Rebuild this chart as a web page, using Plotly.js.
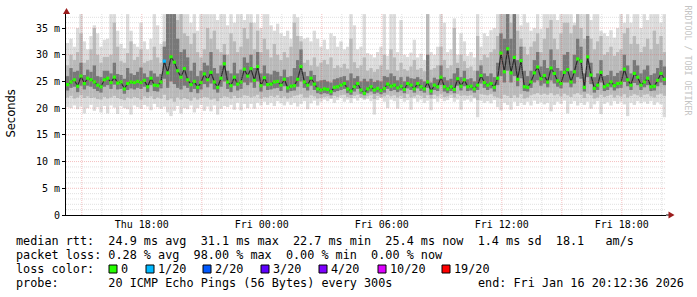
<!DOCTYPE html>
<html><head><meta charset="utf-8">
<script src="https://cdn.plot.ly/plotly-3.0.1.min.js"></script>
<style>html,body{margin:0;padding:0;background:#fff;}#chart{width:697px;height:297px;}</style>
</head><body><div id="chart"></div>
<script>
// ---- DATA (ms, 10-minute steps, 30 hours ending Fri Jan 16 20:12:36 2026) ----
const med = [
24.4,24.9,25.3,24.1,26.0,24.6, 25.6,25.3,24.9,24.3,24.0,25.3, 25.6,24.8,25.8,24.7,24.9,23.6,
24.6,24.9,24.8,25.0,24.8,25.2, 24.0,25.6,24.3,24.2,24.9,28.8, 26.6,29.6,28.6,27.0,25.8,27.4,
25.3,24.4,25.0,23.9,24.8,26.4, 25.3,26.7,24.9,23.9,25.6,28.3, 24.9,24.2,25.8,24.5,24.9,27.3,
26.0,27.4,25.2,27.8,24.2,25.7, 24.4,24.5,24.9,25.0,24.3,25.4, 23.8,24.1,24.2,25.4,27.8,24.9,
24.3,25.6,24.5,23.6,23.4,23.6, 23.5,23.1,23.9,24.0,24.3,24.6, 23.6,23.2,24.0,24.6,23.4,22.8,
23.6,24.0,23.4,23.7,23.3,23.7, 24.5,24.1,24.3,23.8,24.1,23.5, 24.6,24.3,23.6,24.6,24.0,23.6,
24.9,23.2,24.3,24.0,25.8,24.0, 23.6,24.0,23.5,25.5,24.1,25.3, 24.0,24.1,23.6,24.3,26.1,24.8,
24.3,24.6,23.9,25.6,30.3,26.8, 31.1,26.6,29.5,25.4,28.9,24.0, 23.9,24.9,26.6,27.7,25.5,26.1,
24.9,27.5,26.5,25.1,24.6,26.7, 27.2,24.9,26.8,29.2,28.8,23.9, 29.6,26.2,23.7,24.3,26.7,24.0,
24.3,24.9,24.2,24.6,24.7,27.3, 25.3,24.3,26.5,25.8,24.3,24.9, 25.6,24.0,24.1,25.2,26.5,25.4];
// loss per step, in pings lost out of 20
const loss = [
0,0,0,0,0,0, 0,0,0,0,0,0, 0,0,0,0,0,0, 0,0,0,0,0,0, 0,0,0,0,0,1, 0,0,0,0,0,0,
0,0,0,0,0,0, 0,0,0,0,0,0, 0,0,0,0,0,0, 0,0,0,0,0,0, 0,0,0,0,0,0, 0,0,0,0,0,0,
0,0,0,0,0,0, 0,0,0,0,0,0, 0,0,0,0,0,0, 0,0,0,0,0,0, 0,0,0,0,0,0, 0,0,0,0,0,0,
0,0,0,0,0,0, 0,0,0,0,0,0, 0,0,0,0,0,0, 0,0,0,0,0,0, 0,0,0,0,0,0, 0,0,0,0,0,0,
0,0,0,0,0,0, 0,0,0,0,0,0, 0,0,0,0,0,0, 0,0,0,0,0,0, 0,0,0,0,0,0, 0,0,0,0,0,0];
// outer smoke (light)
const hi1 = [
32.2,33.0,31.5,35.0,37.6,32.5, 31.0,33.5,35.5,34.0,31.5,32.8, 33.0,37.6,37.6,34.5,32.0,31.2,
37.6,34.5,32.0,31.5,36.0,32.5, 31.0,33.0,37.6,35.5,32.0,37.6, 37.6,37.6,37.6,37.6,37.6,37.6,
37.6,36.0,37.6,34.5,37.6,37.6, 37.6,37.6,37.6,36.5,37.6,37.6, 35.5,37.6,36.0,37.6,37.6,36.5,
37.6,37.6,36.0,37.6,35.0,37.6, 37.6,35.5,34.5,35.8,34.0,33.5, 34.5,33.0,37.6,37.0,33.5,33.0,
33.2,32.5,34.5,33.0,31.5,32.8, 31.0,34.0,33.5,31.5,32.5,31.0, 31.5,37.6,35.5,31.0,31.5,37.6,
30.3,30.0,29.5,30.5,31.5,37.6, 29.8,37.6,37.6,30.5,36.5,30.0, 29.6,30.4,32.8,29.5,30.2,29.0,
37.6,30.5,30.0,31.5,37.6,36.0, 30.5,31.0,36.8,30.0,34.0,32.5, 29.8,30.5,29.5,37.6,31.5,34.0,
33.5,34.6,35.0,37.6,37.6,37.6, 37.6,37.6,37.6,37.6,35.5,37.6, 36.0,34.5,35.0,37.6,34.8,37.6,
37.6,37.6,37.6,36.5,37.6,37.6, 37.6,37.6,36.0,37.6,37.6,37.6, 37.6,36.5,37.6,37.6,34.5,34.0,
33.5,34.6,33.2,35.0,37.6,36.0, 37.6,36.0,37.6,37.6,35.0,37.6, 36.5,37.6,37.6,37.6,36.0,37.6];
const lo1 = [
20.2,20.0,20.5,19.8,20.3,19.0, 20.0,20.6,19.5,20.2,19.2,20.4, 19.0,20.5,20.1,18.9,20.4,20.0,
19.8,18.8,20.5,20.2,19.9,20.6, 20.3,19.6,20.8,20.2,19.9,20.3, 19.2,18.5,19.5,20.4,19.0,20.0,
19.8,20.5,19.2,20.0,20.6,19.5, 20.3,19.4,20.5,18.8,19.9,20.4, 20.2,20.6,19.7,21.0,19.6,20.8,
20.0,20.8,19.9,21.0,20.5,21.2, 20.6,21.0,20.4,21.3,20.9,20.5, 21.2,20.6,21.0,20.3,20.8,21.3,
19.8,20.9,21.4,20.5,21.2,21.6, 21.3,21.8,21.0,21.5,21.9,21.2, 21.6,21.0,21.8,21.4,21.9,21.5,
21.7,21.3,18.8,21.5,21.9,21.2, 20.0,21.6,21.3,19.9,21.7,21.2, 21.5,19.7,21.8,21.2,21.6,21.0,
21.4,19.6,21.7,21.2,21.8,21.3, 21.5,21.9,21.2,21.6,19.7,21.4, 21.6,21.2,21.8,18.3,21.4,21.0,
21.3,20.9,21.5,20.2,19.6,21.0, 20.6,19.7,21.2,20.4,21.0,20.6, 21.2,20.5,21.4,20.8,21.1,20.7,
21.0,19.4,20.6,21.2,20.8,21.4, 19.0,20.8,21.3,20.5,21.0,20.6, 21.2,19.9,20.7,21.3,18.9,20.8,
21.1,20.5,21.3,20.8,21.2,20.7, 18.5,21.0,20.6,21.3,20.9,21.2, 20.8,21.3,20.6,21.1,20.7,18.3];
// middle smoke
const hi2 = [
28.0,30.0,29.0,30.5,34.0,28.5, 29.0,31.0,35.0,30.0,28.5,29.6, 29.6,30.0,36.0,31.5,28.8,28.5,
30.3,32.5,29.0,29.6,31.0,28.5, 28.8,29.0,31.5,29.5,28.5,32.5, 37.6,37.6,37.6,36.5,37.6,34.0,
33.5,32.0,34.0,30.5,29.5,31.0, 35.0,33.0,34.5,31.0,30.5,32.0, 30.0,34.0,32.5,30.5,31.5,35.0,
33.0,36.0,31.0,34.5,30.5,33.0, 31.0,29.5,32.0,30.0,29.0,30.5, 29.5,31.5,36.0,33.5,32.5,28.5,
29.0,28.0,29.5,27.8,28.5,29.0, 28.2,29.5,27.5,28.0,27.6,28.3, 27.4,33.0,28.6,27.5,28.0,29.5,
27.0,27.5,26.8,27.3,28.0,30.0, 27.2,31.0,29.5,27.0,28.5,27.3, 27.0,27.8,29.0,27.2,27.5,26.9,
37.6,27.2,27.5,28.0,31.5,29.0, 27.5,28.0,35.0,28.5,30.0,28.8, 27.5,27.8,27.0,33.5,29.0,30.0,
29.5,30.5,31.0,33.5,37.6,37.6, 37.6,36.0,37.6,34.5,33.0,31.5, 30.0,31.5,32.5,34.0,30.5,33.0,
35.0,36.5,33.0,31.0,34.0,36.0, 36.0,34.0,35.5,37.6,35.0,33.0, 37.6,33.0,31.0,32.5,33.5,30.0,
30.5,31.5,29.8,30.5,31.0,34.0, 35.0,32.0,33.5,32.0,30.5,31.5, 33.0,31.0,34.5,32.0,33.5,30.5];
const lo2 = [
22.0,22.3,21.8,22.0,22.4,21.9, 22.2,21.9,22.0,21.7,21.6,22.1, 21.8,22.0,22.3,21.9,21.7,21.5,
22.0,21.8,22.1,21.9,21.6,22.2, 21.9,22.2,21.7,22.0,21.8,22.5, 21.5,21.8,21.2,22.0,21.6,21.9,
21.7,21.4,22.0,21.6,21.9,22.1, 22.0,21.6,21.8,21.3,21.9,22.2, 22.1,21.8,22.3,21.9,22.0,22.4,
22.3,22.0,22.2,22.5,21.8,22.1, 22.0,22.3,22.1,22.4,21.9,22.2, 21.8,22.0,22.3,22.4,22.6,22.0,
22.0,22.4,22.2,21.8,21.9,22.1, 22.2,21.8,22.3,22.1,22.4,22.5, 22.1,21.9,22.3,22.5,22.0,21.8,
22.2,22.4,21.7,22.3,22.0,22.2, 22.5,22.2,22.4,22.0,22.3,21.9, 22.6,22.0,22.2,22.5,22.3,21.9,
22.4,21.8,22.5,22.2,22.6,22.1, 22.2,22.5,22.0,22.6,22.3,22.4, 22.3,22.4,22.0,21.5,22.6,22.5,
22.4,22.6,22.2,22.0,21.8,22.5, 22.3,21.9,22.4,22.0,22.6,21.8, 22.0,22.4,22.6,22.8,22.5,22.7,
22.5,22.8,22.4,22.6,22.2,22.7, 22.4,22.1,22.6,22.8,22.5,21.9, 22.7,22.4,21.8,22.0,22.5,22.1,
22.3,22.5,22.0,22.4,22.2,22.6, 22.0,22.3,22.6,22.4,22.1,22.5, 22.6,22.2,22.0,22.5,22.7,22.3];
// inner smoke (dark)
const hi3 = [
26.0,27.5,26.8,27.0,28.5,26.2, 27.2,26.8,28.0,26.0,25.8,27.0, 27.0,26.5,28.5,26.4,26.2,25.5,
27.5,26.5,26.2,26.8,27.6,26.5, 25.8,27.0,26.5,25.9,26.4,31.5, 37.6,37.6,37.6,33.0,30.5,31.0,
29.5,27.0,28.5,26.0,27.0,28.5, 28.0,30.5,27.5,26.5,28.0,30.0, 27.0,26.5,28.5,26.5,27.2,29.5,
28.5,30.0,27.5,30.5,26.5,28.0, 26.5,26.3,27.0,26.8,26.0,27.2, 25.8,26.0,27.5,29.0,31.0,26.8,
26.0,27.0,26.2,25.0,25.2,25.3, 25.0,24.8,25.4,25.6,25.8,26.0, 25.2,26.5,25.6,26.0,25.0,25.5,
25.0,25.5,24.9,25.2,25.0,26.0, 25.8,26.5,26.0,25.2,25.8,25.0, 25.9,25.6,25.5,25.8,25.4,25.0,
30.0,24.8,25.7,25.4,28.0,25.8, 25.2,25.5,26.5,27.5,25.8,27.0, 25.4,25.6,25.0,27.0,28.0,26.5,
26.0,26.5,25.8,28.5,34.0,33.0, 37.6,33.0,37.6,29.0,31.5,27.0, 26.0,27.0,29.0,30.5,27.8,29.0,
27.5,31.0,29.0,27.5,27.0,30.0, 30.5,27.0,30.0,33.0,31.5,26.5, 33.5,28.5,25.8,26.5,29.0,26.0,
26.2,27.0,26.0,26.6,27.0,30.0, 28.0,26.5,29.0,28.0,26.5,27.2, 28.0,26.2,26.5,27.5,29.0,27.8];
const lo3 = [
23.3,23.8,24.0,23.0,24.2,23.5, 24.2,24.0,23.6,23.2,22.9,24.0, 24.3,23.6,24.4,23.5,23.6,22.7,
23.4,23.7,23.5,23.8,23.6,24.0, 23.0,24.3,23.2,23.1,23.7,25.5, 23.8,25.0,24.5,23.8,23.5,24.2,
23.8,23.0,23.6,22.8,23.5,24.5, 23.9,24.6,23.5,22.9,24.0,25.0, 23.6,23.0,24.2,23.3,23.6,24.8,
24.3,24.8,23.8,25.0,23.1,24.2, 23.4,23.5,23.7,23.8,23.2,24.1, 22.9,23.2,23.3,24.0,25.0,23.8,
23.3,24.2,23.4,22.8,22.6,22.8, 22.7,22.4,23.0,23.2,23.4,23.6, 22.8,22.5,23.1,23.6,22.7,22.4,
22.8,23.1,22.7,22.9,22.6,22.9, 23.6,23.2,23.4,23.0,23.3,22.8, 23.7,23.4,22.9,23.7,23.2,22.9,
23.8,22.5,23.4,23.2,24.3,23.1, 22.8,23.2,22.8,24.2,23.3,24.1, 23.2,23.3,22.9,23.4,24.6,23.8,
23.4,23.7,23.1,24.3,26.0,24.8, 27.0,24.8,26.0,24.1,25.6,23.2, 23.1,23.8,24.8,25.2,24.2,24.6,
23.9,25.2,24.6,24.0,23.7,24.8, 24.8,23.9,24.6,25.8,25.5,23.1, 25.8,24.5,22.9,23.4,24.8,23.2,
23.4,23.9,23.3,23.7,23.8,24.9, 24.1,23.4,24.7,24.3,23.4,23.9, 24.3,23.2,23.3,24.1,24.8,24.3];

const yTickVals = [0,5,10,15,20,25,30,35];
const yTickText = ['0','5 m','10 m','15 m','20 m','25 m','30 m','35 m'];
const xTickVals = ['2026-01-15 15:00:00','2026-01-15 18:00:00','2026-01-15 21:00:00','2026-01-16 00:00:00',
  '2026-01-16 03:00:00','2026-01-16 06:00:00','2026-01-16 09:00:00','2026-01-16 12:00:00',
  '2026-01-16 15:00:00','2026-01-16 18:00:00'];
const xTickText = ['','Thu 18:00','','Fri 00:00','','Fri 06:00','','Fri 12:00','','Fri 18:00'];

const lossColors = ['#26ff00','#00b8ff','#0059ff','#5e00ff','#7e00ff','#dd00ff','#ff0000'];
const lossLabels = ['0','1/20','2/20','3/20','4/20','10/20','19/20'];
const lossThresh = [0,1,2,3,4,10,19];

const statLine1 = 'median rtt:  24.9 ms avg  31.1 ms max  22.7 ms min  25.4 ms now  1.4 ms sd  18.1   am/s';
const statLine2 = 'packet loss: 0.28 % avg  98.00 % max  0.00 % min  0.00 % now';
const probeLine = 'probe:       20 ICMP Echo Pings (56 Bytes) every 300s';
const endLine = 'end: Fri Jan 16 20:12:36 2026';

// ---- BUILD ----
const T0 = Date.UTC(2026,0,15,14,12,36);
const STEP = 600000;
const HOUR = 3600000;
const times = med.map((_, i) => T0 + (i + 0.5) * STEP);
const diff = (hi, lo) => hi.map((v, i) => v - lo[i]);
function lossColor(l){ let c = lossColors[0]; for(let k=0;k<lossThresh.length;k++){ if(l>=lossThresh[k]) c = lossColors[k]; } return c; }

const band = (hi, lo, color) => ({type:'bar', x:times, y:diff(hi,lo), base:lo, width:STEP,
  marker:{color:color, line:{width:0}}, hoverinfo:'skip'});
const traces = [
  band(hi1, lo1, '#dcdcdc'),
  band(hi2, lo2, '#bababa'),
  band(hi3, lo3, '#787878'),
  {type:'scatter', mode:'lines+markers', x:times, y:med,
   line:{color:'#2a2a2a', width:1.2},
   marker:{symbol:'square', size:3.2, color:loss.map(lossColor), line:{width:0}}, hoverinfo:'skip'}
];

// pixel helpers (plot area: x 66..666, y 14..215)
const L = 66, W = 600, TOP = 14, BOT = 215, H = 201;
const px = x => (x - L) / W;
const py = y => (BOT - y) / H;

const minorCol = 'rgba(160,160,160,0.32)';
const majorCol = 'rgba(225,90,90,0.38)';
const shapes = [];
// vertical grid (hourly, red every 3 h)
for (let k = 0; k < 30; k++) {
  const t = Date.UTC(2026,0,15,15 + k);
  if (t > T0 + 30*HOUR) break;
  const major = ((15 + k) % 3) === 0;
  shapes.push({type:'line', layer:'above', xref:'x', yref:'paper', x0:t, x1:t, y0:0, y1:1,
    line:{color: major ? majorCol : minorCol, width:1, dash:'1px,1px'}});
}
// horizontal grid (1 ms, red every 5 ms)
for (let v = 1; v <= 37; v++) {
  const major = v % 5 === 0;
  shapes.push({type:'line', layer:'above', xref:'paper', yref:'y', x0:0, x1:1, y0:v, y1:v,
    line:{color: major ? majorCol : minorCol, width:1, dash:'1px,1px'}});
}
// axis extension and arrows
shapes.push({type:'line', xref:'paper', yref:'paper', x0:px(666), x1:px(670), y0:py(215), y1:py(215), line:{color:'#000', width:1}});
shapes.push({type:'path', xref:'paper', yref:'paper', fillcolor:'#9b1c1c', line:{width:0},
  path:`M ${px(66.5)} ${py(8)} L ${px(63)} ${py(14)} L ${px(70)} ${py(14)} Z`});
shapes.push({type:'path', xref:'paper', yref:'paper', fillcolor:'#9b1c1c', line:{width:0},
  path:`M ${px(674.5)} ${py(215)} L ${px(668.5)} ${py(211.5)} L ${px(668.5)} ${py(218.5)} Z`});

const nb = s => s.replace(/ /g, '\u00A0');
const mono = 'DejaVu Sans Mono';
const annotations = [];
function textAt(x, y, s, size){
  annotations.push({xref:'paper', yref:'paper', x:px(x), y:py(y), xanchor:'left', yanchor:'middle',
    text:nb(s), showarrow:false, borderpad:0, borderwidth:0,
    font:{family:mono, size:size || 11.8, color:'#000'}});
}
textAt(16, 241, statLine1);
textAt(16, 255, statLine2);
textAt(16, 269, 'loss color:');
textAt(16, 283, probeLine);
textAt(478, 283, endLine);
const boxX = [109,146,203,261,319,378,442];
lossLabels.forEach((lab, k) => {
  shapes.push({type:'rect', xref:'paper', yref:'paper', x0:px(boxX[k]), x1:px(boxX[k]+8), y0:py(273), y1:py(265),
    fillcolor:lossColors[k], line:{color:'#000', width:1}});
  textAt(boxX[k] + 12, 269, lab);
});
annotations.push({xref:'paper', yref:'paper', x:px(10.5), y:py(114), xanchor:'center', yanchor:'middle',
  text:'Seconds', textangle:-90, showarrow:false, borderpad:0, borderwidth:0,
  font:{family:'DejaVu Sans', size:11.5, color:'#000'}});
annotations.push({xref:'paper', yref:'paper', x:px(687.5), y:py(60), xanchor:'center', yanchor:'middle',
  text:'RRDTOOL / TOBI OETIKER', textangle:90, showarrow:false, borderpad:0, borderwidth:0,
  font:{family:mono, size:8.3, color:'#c4c4c4'}});

const layout = {
  width:697, height:297, margin:{l:L, r:697-L-W, t:TOP, b:297-BOT, pad:0},
  paper_bgcolor:'#ffffff', plot_bgcolor:'#ffffff',
  font:{family:mono, size:10, color:'#000'},
  showlegend:false, barmode:'overlay', hovermode:false,
  xaxis:{type:'date', range:[T0, T0 + 30*HOUR], tickvals:xTickVals, ticktext:xTickText,
    showgrid:false, zeroline:false, showline:true, linecolor:'#000', linewidth:1, ticks:'',
    tickfont:{family:mono, size:10, color:'#000'}},
  yaxis:{range:[0, 37.62], tickvals:yTickVals, ticktext:yTickText, showgrid:false, zeroline:false,
    showline:true, linecolor:'#000', linewidth:1, ticks:'outside', ticklen:3, tickcolor:'#000',
    tickfont:{family:mono, size:10, color:'#000'}},
  shapes:shapes, annotations:annotations
};
Plotly.newPlot('chart', traces, layout, {staticPlot:true, displayModeBar:false});
</script></body></html>
